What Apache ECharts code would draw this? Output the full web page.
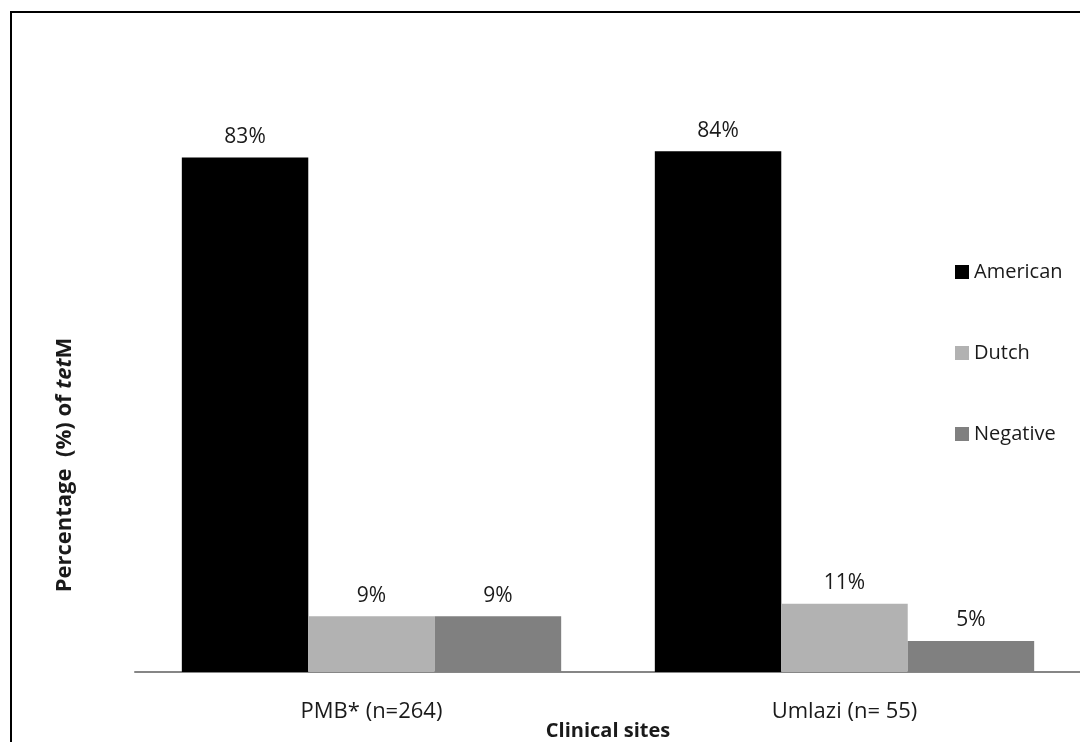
<!DOCTYPE html>
<html>
<head>
<meta charset="utf-8">
<script src="https://cdn.jsdelivr.net/npm/echarts@6/dist/echarts.min.js"></script>
<style>
  html, body { margin: 0; padding: 0; background: #fff; }
  #chart { width: 1080px; height: 742px; }
</style>
</head>
<body>
<div id="chart"></div>
<script>
// Clinical sites and tetM type percentages
const sites = ['PMB* (n=264)', 'Umlazi (n= 55)'];
const american = [83, 84];
const dutch = [9, 11];
const negative = [9, 5];

const seriesNames = ['American', 'Dutch', 'Negative'];
const seriesColors = ['#000000', '#b2b2b2', '#808080'];
const seriesValues = [american, dutch, negative];

const FONT = '"Open Sans", "Noto Sans", sans-serif';

const chart = echarts.init(document.getElementById('chart'));

const option = {
  backgroundColor: '#ffffff',
  animation: false,
  textStyle: { fontFamily: FONT },
  grid: { left: 135, right: -1, top: 52, bottom: 70, containLabel: false, outerBoundsMode: 'none' },
  legend: {
    orient: 'vertical',
    left: 955,
    top: 262,
    padding: 0,
    icon: 'rect',
    itemWidth: 14,
    itemHeight: 14,
    itemGap: 61,
    textStyle: { fontFamily: FONT, fontSize: 20, color: '#1a1a1a', lineHeight: 20 },
    data: seriesNames
  },
  xAxis: {
    type: 'category',
    data: sites,
    name: 'Clinical sites',
    nameLocation: 'middle',
    nameGap: 49,
    nameMoveOverlap: false,
    nameTextStyle: { fontFamily: FONT, fontSize: 20, fontWeight: 'bold', color: '#1a1a1a' },
    axisLine: { show: true, lineStyle: { color: '#868686', width: 2 } },
    axisTick: { show: false },
    axisLabel: { fontFamily: FONT, fontSize: 22, color: '#1a1a1a', margin: 29 }
  },
  yAxis: {
    type: 'value',
    min: 0,
    max: 100,
    show: false
  },
  series: seriesNames.map((name, i) => ({
    name: name,
    type: 'bar',
    data: seriesValues[i],
    barGap: '0%',
    barCategoryGap: '19.8%',
    itemStyle: { color: seriesColors[i] },
    label: {
      show: true,
      position: 'top',
      distance: 10,
      formatter: '{c}%',
      fontFamily: FONT,
      fontSize: 21,
      color: '#1a1a1a'
    }
  })),
  graphic: [
    {
      type: 'rect',
      shape: { x: 11, y: 12, width: 1200, height: 1000 },
      style: { fill: 'none', stroke: '#000000', lineWidth: 2 },
      silent: true
    },
    {
      type: 'text',
      x: 65,
      y: 465,
      rotation: Math.PI / 2,
      style: {
        text: '{b|Percentage  (%) of }{i|tet}{b|M}',
        align: 'center',
        verticalAlign: 'middle',
        rich: {
          b: { fontFamily: FONT, fontSize: 22, fontWeight: 'bold', fill: '#1a1a1a' },
          i: { fontFamily: FONT, fontSize: 22, fontWeight: 'bold', fontStyle: 'italic', fill: '#1a1a1a' }
        }
      },
      silent: true
    }
  ]
};

chart.setOption(option);
</script>
</body>
</html>
